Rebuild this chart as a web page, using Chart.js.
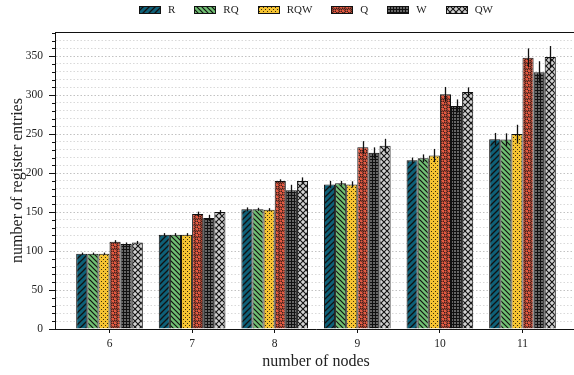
<!DOCTYPE html>
<html>
<head>
<meta charset="utf-8">
<script src="https://cdn.jsdelivr.net/npm/chart.js@4/dist/chart.umd.min.js"></script>
<style>
  html, body { margin: 0; padding: 0; background: #fff; overflow: hidden; }
  #wrap { width: 577px; height: 375px; }
</style>
</head>
<body>
<div id="wrap"><canvas id="c" width="577" height="375"></canvas></div>
<script>
// Register-entry counts per network size and strategy (mean ± spread)
const categories = [6, 7, 8, 9, 10, 11];
const seriesNames = ['R', 'RQ', 'RQW', 'Q', 'W', 'QW'];

const R   = [96.5, 121, 153.5, 185.5, 216.5, 243.5];
const RQ  = [96.5, 121, 153.5, 187, 219, 243];
const RQW = [96.5, 121, 153, 185.5, 222.5, 250];
const Q   = [112, 147.5, 190, 233, 301, 348];
const W   = [109, 142.5, 178, 226, 286, 329.5];
const QW  = [111, 150, 190, 235, 304, 349];

const R_err   = [1.5, 2, 2.5, 4.5, 3.5, 8];
const RQ_err  = [1.5, 2, 2, 3, 5, 8];
const RQW_err = [1.5, 2, 2, 4, 8.5, 12];
const Q_err   = [2, 3, 2, 8, 9.5, 12];
const W_err   = [2, 4, 7, 7, 8.5, 14];
const QW_err  = [2, 2.5, 4.5, 9, 6, 14];

const yTickStep = 10;
const yLabelStep = 50;

const ctx = document.getElementById('c').getContext('2d');

function tile(size, bg, draw) {
  const c = document.createElement('canvas');
  c.width = size; c.height = size;
  const g = c.getContext('2d');
  g.fillStyle = bg;
  g.fillRect(0, 0, size, size);
  g.strokeStyle = '#111';
  g.fillStyle = '#111';
  g.lineWidth = 1;
  draw(g, size);
  return ctx.createPattern(c, 'repeat');
}

const fills = {
  R: tile(6, '#0e6078', (g, s) => {
    g.lineWidth = 1.3;
    g.beginPath();
    g.moveTo(-1, s + 1); g.lineTo(s + 1, -1);
    g.moveTo(-1, 1); g.lineTo(1, -1);
    g.moveTo(s - 1, s + 1); g.lineTo(s + 1, s - 1);
    g.stroke();
  }),
  RQ: tile(5, '#70bf72', (g, s) => {
    g.lineWidth = 1.2;
    g.beginPath();
    g.moveTo(-1, -1); g.lineTo(s + 1, s + 1);
    g.moveTo(s - 1, -1); g.lineTo(s + 1, 1);
    g.moveTo(-1, s - 1); g.lineTo(1, s + 1);
    g.stroke();
  }),
  RQW: tile(4, '#f5c332', (g) => {
    g.fillStyle = '#3a2e08';
    g.fillRect(1, 1, 1, 1);
    g.fillRect(3, 3, 1, 1);
  }),
  Q: tile(6, '#e45a42', (g) => {
    g.lineWidth = 1;
    g.beginPath(); g.arc(1.5, 1.5, 1.6, 0, Math.PI * 2); g.stroke();
    g.beginPath(); g.arc(4.5, 4.5, 1.6, 0, Math.PI * 2); g.stroke();
  }),
  W: tile(3, '#666666', (g, s) => {
    g.fillStyle = '#111';
    g.fillRect(0, 0, s, 1);
    g.fillRect(0, 0, 1, s);
  }),
  QW: tile(6, '#d2d2d2', (g, s) => {
    g.lineWidth = 1.1;
    g.beginPath();
    g.moveTo(0, 0); g.lineTo(s, s);
    g.moveTo(0, s); g.lineTo(s, 0);
    g.stroke();
  })
};

const seriesValues = { R, RQ, RQW, Q, W, QW };
const seriesErrors = { R: R_err, RQ: RQ_err, RQW: RQW_err, Q: Q_err, W: W_err, QW: QW_err };

const datasets = seriesNames.map(name => ({
  label: name,
  data: categories.map((x, i) => ({ x: x, y: seriesValues[name][i] })),
  errors: seriesErrors[name],
  backgroundColor: fills[name],
  borderColor: '#111',
  borderWidth: 1,
  borderSkipped: 'bottom'
}));

const serif = "'Liberation Serif', 'DejaVu Serif', serif";

// vertical error bars through each bar top
const errorBars = {
  id: 'errorBars',
  afterDatasetsDraw(chart) {
    const y = chart.scales.y;
    const c = chart.ctx;
    c.save();
    c.strokeStyle = '#111';
    c.lineWidth = 1.3;
    chart.data.datasets.forEach((ds, di) => {
      const meta = chart.getDatasetMeta(di);
      meta.data.forEach((bar, i) => {
        const v = ds.data[i].y, e = ds.errors[i];
        c.beginPath();
        c.moveTo(Math.round(bar.x) + 0.5, y.getPixelForValue(v - e));
        c.lineTo(Math.round(bar.x) + 0.5, y.getPixelForValue(v + e));
        c.stroke();
      });
    });
    c.restore();
  }
};

// frame top line, y tick marks (long at labelled values, short otherwise)
// and the rotated y-axis title
const frame = {
  id: 'frame',
  afterDraw(chart) {
    const a = chart.chartArea, y = chart.scales.y, c = chart.ctx;
    c.save();
    c.strokeStyle = '#111';
    c.lineWidth = 1;
    c.beginPath();
    c.moveTo(a.left, a.top + 0.5);
    c.lineTo(a.right, a.top + 0.5);
    y.ticks.forEach(t => {
      const py = Math.round(y.getPixelForValue(t.value)) + 0.5;
      const len = (t.value % yLabelStep === 0) ? 6 : 3;
      c.moveTo(a.left - len, py);
      c.lineTo(a.left, py);
    });
    c.stroke();
    c.translate(18, (a.top + a.bottom) / 2);
    c.rotate(-Math.PI / 2);
    c.font = '16px ' + serif;
    c.fillStyle = '#222';
    c.textAlign = 'center';
    c.textBaseline = 'middle';
    c.fillText('number of register entries', 0, 0);
    c.restore();
  }
};

// single-row legend centred over the plot area
const topLegend = {
  id: 'topLegend',
  afterDraw(chart) {
    const c = chart.ctx, a = chart.chartArea;
    const boxW = 22, boxH = 8, textGap = 7, itemGap = 19, cy = 10;
    c.save();
    c.font = '11px ' + serif;
    const items = chart.data.datasets.map(ds => ({ ds, w: c.measureText(ds.label).width }));
    const total = items.reduce((s, it) => s + boxW + textGap + it.w, 0) + itemGap * (items.length - 1);
    let x = (a.left + a.right) / 2 - total / 2;
    c.textBaseline = 'middle';
    c.textAlign = 'left';
    items.forEach(it => {
      c.fillStyle = it.ds.backgroundColor;
      c.fillRect(Math.round(x), cy - boxH / 2, boxW, boxH);
      c.strokeStyle = '#111';
      c.lineWidth = 1;
      c.strokeRect(Math.round(x) + 0.5, cy - boxH / 2 + 0.5, boxW - 1, boxH - 1);
      x += boxW + textGap;
      c.fillStyle = '#222';
      c.fillText(it.ds.label, x, cy + 0.5);
      x += it.w + itemGap;
    });
    c.restore();
  }
};

new Chart(ctx, {
  type: 'bar',
  data: { datasets },
  options: {
    responsive: false,
    animation: false,
    devicePixelRatio: 1,
    layout: { padding: { top: 32, right: 0, left: 0, bottom: 0 } },
    categoryPercentage: 0.807,
    barPercentage: 1,
    plugins: {
      legend: { display: false },
      tooltip: { enabled: false }
    },
    scales: {
      x: {
        type: 'linear',
        offset: false,
        min: 5.34,
        max: 11.66,
        afterBuildTicks(scale) {
          scale.ticks = categories.map(v => ({ value: v }));
        },
        afterFit(scale) { scale.height = 46; },
        grid: {
          drawOnChartArea: false,
          drawTicks: true,
          tickLength: 4,
          color: '#111',
          offset: false
        },
        border: { display: true, color: '#111', width: 1 },
        ticks: {
          font: { family: serif, size: 11.5 },
          color: '#222',
          padding: 4,
          callback: v => String(v)
        },
        title: {
          display: true,
          text: 'number of nodes',
          font: { family: serif, size: 16 },
          color: '#222',
          padding: { top: 0, bottom: 4 }
        }
      },
      y: {
        min: 0,
        max: 381,
        afterBuildTicks(scale) {
          const t = [];
          for (let v = 0; v <= scale.max; v += yTickStep) t.push({ value: v });
          scale.ticks = t;
        },
        afterFit(scale) { scale.width = 55; },
        grid: {
          drawTicks: false,
          color: c2 => (c2.tick && c2.tick.value % yLabelStep === 0) ? '#c2c2c2' : '#d9d9d9',
          lineWidth: 1
        },
        border: { display: true, color: '#111', width: 1, dash: [1.5, 2] },
        ticks: {
          font: { family: serif, size: 11.5 },
          color: '#222',
          padding: 12,
          autoSkip: false,
          callback: v => (v % yLabelStep === 0 ? String(v) : '')
        },
        title: { display: false }
      }
    }
  },
  plugins: [errorBars, frame, topLegend]
});
</script>
</body>
</html>
